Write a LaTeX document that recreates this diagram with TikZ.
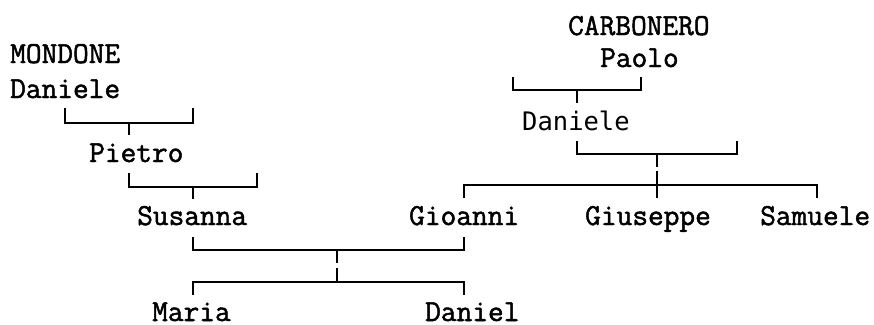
\documentclass[tikz,border=0pt]{standalone}
\usepackage{fontspec}
\newfontfamily\smfont{DejaVu Sans Mono}
\newfontfamily\pfont{Latin Modern Mono}[FakeBold=1.6]
\begin{document}
\begin{tikzpicture}[x=1pt,y=-1pt,
  pname/.style={font=\pfont\fontsize{30.5}{30}\selectfont, inner sep=0pt, anchor=base west},
  sname/.style={font=\smfont\fontsize{25.5}{26}\selectfont, inner sep=0pt, anchor=base west},
  ln/.style={line width=1.6pt, line cap=butt, line join=miter}]
\useasboundingbox (0,0) rectangle (874,324);
% names
\node[pname] (mondone) at (10,63) {MONDONE};
\node[pname] (danieleM) at (10,98) {Daniele};
\node[pname] (pietro) at (89,162) {Pietro};
\node[pname] (susanna) at (137,225) {Susanna};
\node[pname] (maria) at (152,321) {Maria};
\node[pname] (gioanni) at (409,225) {Gioanni};
\node[pname] (daniel) at (425,321) {Daniel};
\node[pname] (carbonero) at (568,35) {CARBONERO};
\node[pname] (paolo) at (600,67) {Paolo};
\node[sname] (danieleC) at (522,130) {Daniele};
\node[pname] (giuseppe) at (585,225) {Giuseppe};
\node[pname] (samuele) at (760,225) {Samuele};
% coordinates
\coordinate (a1) at (65,108); \coordinate (a2) at (65,123); \coordinate (a3) at (193,123); \coordinate (a4) at (193,108);
\coordinate (as1) at (129,123); \coordinate (as2) at (129,135);
\coordinate (b1) at (129,173); \coordinate (b2) at (129,187); \coordinate (b3) at (257,187); \coordinate (b4) at (257,173);
\coordinate (bs1) at (193,187); \coordinate (bs2) at (193,199);
\coordinate (c1) at (193,237); \coordinate (c2) at (193,250); \coordinate (c3) at (464,250); \coordinate (c4) at (464,237);
\coordinate (cs1) at (337,250); \coordinate (cs2) at (337,263); \coordinate (cs3) at (337,268); \coordinate (cs4) at (337,282);
\coordinate (d1) at (193,295); \coordinate (d2) at (193,282); \coordinate (d3) at (464,282); \coordinate (d4) at (464,295);
\coordinate (e1) at (513,77); \coordinate (e2) at (513,90); \coordinate (e3) at (641,90); \coordinate (e4) at (641,77);
\coordinate (es1) at (577,90); \coordinate (es2) at (577,103);
\coordinate (f1) at (577,141); \coordinate (f2) at (577,154); \coordinate (f3) at (737,154); \coordinate (f4) at (737,141);
\coordinate (fs1) at (657,154); \coordinate (fs2) at (657,167); \coordinate (fs3) at (657,171); \coordinate (fs4) at (657,198);
\coordinate (g1) at (464,198); \coordinate (g2) at (464,185); \coordinate (g3) at (817,185); \coordinate (g4) at (817,198);
% lines
\draw[ln] (a1) -- (a2) -- (a3) -- (a4); \draw[ln] (as1) -- (as2);
\draw[ln] (b1) -- (b2) -- (b3) -- (b4); \draw[ln] (bs1) -- (bs2);
\draw[ln] (c1) -- (c2) -- (c3) -- (c4); \draw[ln] (cs1) -- (cs2); \draw[ln] (cs3) -- (cs4);
\draw[ln] (d1) -- (d2) -- (d3) -- (d4);
\draw[ln] (e1) -- (e2) -- (e3) -- (e4); \draw[ln] (es1) -- (es2);
\draw[ln] (f1) -- (f2) -- (f3) -- (f4); \draw[ln] (fs1) -- (fs2); \draw[ln] (fs3) -- (fs4);
\draw[ln] (g1) -- (g2) -- (g3) -- (g4);
\end{tikzpicture}
\end{document}
